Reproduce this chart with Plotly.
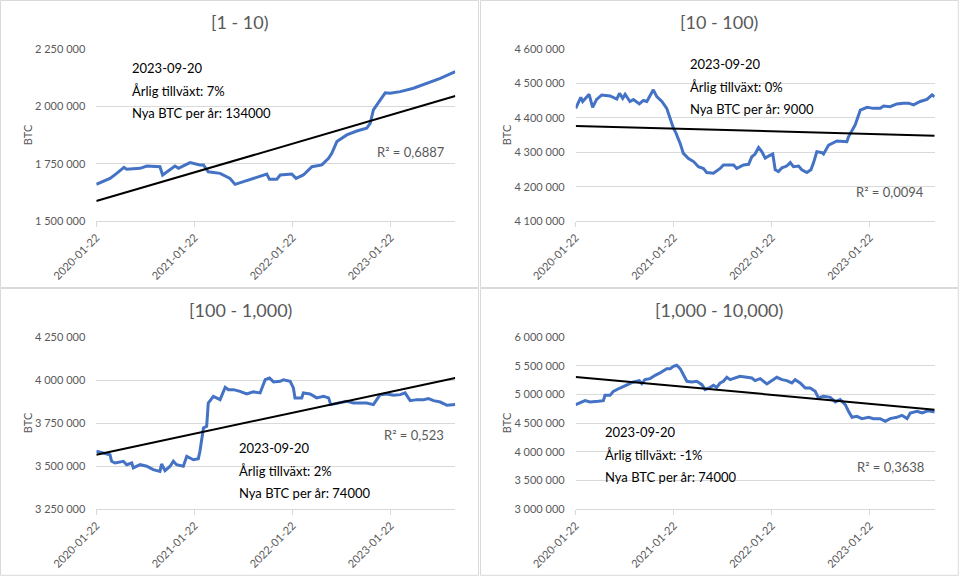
import pandas as pd
import plotly.graph_objects as go

start = pd.Timestamp("2020-01-22")
end = pd.Timestamp("2023-09-20")
tick_dates = ["2020-01-22", "2021-01-22", "2022-01-22", "2023-01-22"]

# [1 - 10)
days_1 = [0, 51, 76, 103, 113, 163, 188, 237, 247, 293, 306, 349, 386, 399, 417,
          461, 498, 517, 548, 585, 635, 645, 672, 685, 728, 744, 771, 803, 840,
          865, 877, 896, 933, 970, 1007, 1020, 1032, 1057, 1076, 1094, 1132,
          1181, 1231, 1281, 1337]
btc_1 = [1660000, 1686000, 1708000, 1734000, 1726000, 1730000, 1740000, 1737000,
         1701000, 1740000, 1730000, 1755000, 1745000, 1745000, 1715000, 1708000,
         1686000, 1660000, 1672000, 1686000, 1705000, 1682000, 1682000, 1701000,
         1705000, 1686000, 1701000, 1737000, 1745000, 1774000, 1796000, 1847000,
         1876000, 1893000, 1905000, 1927000, 1985000, 2028000, 2060000, 2058000,
         2065000, 2080000, 2101000, 2123000, 2152000]
trend_1 = [1587000, 2046000]

# [10 - 100)
days_2 = [0, 10, 19, 26, 39, 50, 63, 78, 97, 128, 153, 163, 175, 184, 202, 215,
          237, 252, 265, 289, 302, 321, 339, 352, 364, 374, 389, 401, 420, 439,
          457, 476, 488, 513, 538, 550, 588, 600, 625, 644, 656, 668, 681, 693,
          706, 718, 734, 743, 755, 768, 786, 799, 811, 830, 842, 861, 876, 886,
          898, 917, 923, 942, 973, 1010, 1016, 1041, 1060, 1085, 1109, 1134,
          1147, 1171, 1196, 1221, 1240, 1258, 1283, 1308, 1327, 1337]
btc_2 = [4428000, 4448000, 4460000, 4448000, 4460000, 4469000, 4431000, 4454000,
         4467000, 4464000, 4455000, 4472000, 4457000, 4469000, 4448000, 4454000,
         4441000, 4451000, 4448000, 4482000, 4462000, 4448000, 4428000, 4394000,
         4370000, 4355000, 4326000, 4297000, 4282000, 4273000, 4258000, 4253000,
         4241000, 4239000, 4253000, 4263000, 4263000, 4253000, 4263000, 4265000,
         4287000, 4295000, 4314000, 4302000, 4283000, 4289000, 4295000, 4249000,
         4244000, 4255000, 4260000, 4270000, 4258000, 4260000, 4249000, 4241000,
         4249000, 4270000, 4302000, 4299000, 4295000, 4321000, 4333000, 4331000,
         4345000, 4380000, 4423000, 4431000, 4428000, 4428000, 4435000, 4433000,
         4441000, 4443000, 4443000, 4438000, 4448000, 4454000, 4467000, 4462000]
trend_2 = [4377000, 4348000]

# [100 - 1,000)
days_3 = [0, 26, 51, 57, 70, 101, 113, 132, 138, 163, 188, 212, 237, 243, 256,
          275, 287, 299, 324, 337, 362, 380, 386, 399, 411, 417, 436, 461, 480,
          492, 511, 535, 560, 585, 610, 629, 645, 660, 685, 697, 722, 734, 740,
          765, 771, 796, 821, 846, 865, 873, 896, 933, 958, 983, 1007, 1032,
          1057, 1082, 1107, 1132, 1150, 1169, 1194, 1219, 1237, 1256, 1281,
          1306, 1337]
btc_3 = [3586000, 3576000, 3566000, 3528000, 3518000, 3528000, 3508000, 3518000,
         3489000, 3508000, 3499000, 3479000, 3469000, 3512000, 3473000, 3499000,
         3528000, 3508000, 3499000, 3557000, 3537000, 3543000, 3586000, 3722000,
         3732000, 3867000, 3906000, 3887000, 3959000, 3945000, 3945000, 3935000,
         3920000, 3932000, 3926000, 4003000, 4013000, 3990000, 3994000, 4003000,
         3994000, 3955000, 3897000, 3897000, 3926000, 3920000, 3897000, 3906000,
         3897000, 3858000, 3867000, 3877000, 3867000, 3867000, 3867000, 3858000,
         3916000, 3920000, 3912000, 3916000, 3926000, 3881000, 3887000, 3887000,
         3893000, 3881000, 3873000, 3854000, 3858000]
trend_3 = [3566000, 4013000]

# [1,000 - 10,000)
days_4 = [0, 16, 35, 53, 72, 84, 103, 109, 128, 140, 165, 190, 215, 237, 246,
          258, 277, 296, 314, 339, 352, 364, 376, 389, 401, 414, 432, 451, 470,
          482, 501, 513, 525, 538, 550, 563, 575, 594, 612, 637, 656, 668, 687,
          712, 730, 749, 768, 786, 805, 817, 836, 855, 873, 892, 904, 923, 948,
          967, 985, 1004, 1016, 1029, 1047, 1066, 1091, 1109, 1134, 1153, 1171,
          1196, 1215, 1234, 1246, 1271, 1290, 1314, 1337]
btc_4 = [4823000, 4852000, 4893000, 4870000, 4870000, 4881000, 4893000, 4986000,
         4986000, 5056000, 5114000, 5173000, 5219000, 5243000, 5190000, 5260000,
         5278000, 5336000, 5377000, 5452000, 5452000, 5493000, 5511000, 5452000,
         5347000, 5231000, 5219000, 5231000, 5173000, 5085000, 5126000, 5161000,
         5126000, 5202000, 5231000, 5301000, 5260000, 5289000, 5318000, 5301000,
         5289000, 5243000, 5278000, 5184000, 5243000, 5301000, 5260000, 5243000,
         5202000, 5260000, 5202000, 5114000, 5114000, 5056000, 4940000, 4969000,
         4951000, 4870000, 4911000, 4823000, 4707000, 4602000, 4619000, 4579000,
         4602000, 4579000, 4579000, 4532000, 4579000, 4602000, 4637000, 4579000,
         4677000, 4707000, 4677000, 4718000, 4695000]
trend_4 = [5307000, 4736000]

titles = ["[1 - 10)", "[10 - 100)", "[100 - 1,000)", "[1,000 - 10,000)"]
growth = ["7%", "0%", "2%", "-1%"]
new_btc = ["134000", "9000", "74000", "74000"]
r2 = ["0,6887", "0,0094", "0,523", "0,3638"]
y_ranges = [[1500000, 2250000], [4100000, 4600000], [3250000, 4250000], [3000000, 6000000]]
y_steps = [250000, 100000, 250000, 500000]

days = [days_1, days_2, days_3, days_4]
btc = [btc_1, btc_2, btc_3, btc_4]
trends = [trend_1, trend_2, trend_3, trend_4]

W, H = 959, 576
def px(x):
    return x / W
def py(y):
    return 1 - y / H

GREY = "#595959"
GRID = "#d9d9d9"
BLUE = "#4472C4"
FONT = "Lato"

# pixel layout of each panel: box, plot area, text block, r2 label
panels = [
    dict(box=(0.5, 0.5, 478.5, 287.5), plot=(96.3, 455.3, 49.3, 221), ytitle=27,
         title=(240, 22), text=(130, 68), r2=(447, 152)),
    dict(box=(480.5, 0.5, 958.3, 287.5), plot=(575.7, 934.7, 49.3, 221), ytitle=506,
         title=(719, 22), text=(688, 64), r2=(926, 192)),
    dict(box=(0.5, 288.5, 478.5, 575.3), plot=(96.3, 455.3, 337.3, 509), ytitle=27,
         title=(240, 310), text=(237, 448), r2=(446, 435)),
    dict(box=(480.5, 288.5, 958.3, 575.3), plot=(575.7, 934.7, 337.3, 509), ytitle=506,
         title=(719, 310), text=(603, 432), r2=(926, 467)),
]

fig = go.Figure()
annotations = []
shapes = []
layout = {}

for i, p in enumerate(panels):
    n = "" if i == 0 else str(i + 1)
    xa, ya = "x" + n, "y" + n
    dates = start + pd.to_timedelta(days[i], unit="D")
    fig.add_trace(go.Scatter(x=dates, y=btc[i], mode="lines", xaxis=xa, yaxis=ya,
                             line=dict(color=BLUE, width=3), showlegend=False))
    fig.add_trace(go.Scatter(x=[start, end], y=trends[i], mode="lines", xaxis=xa, yaxis=ya,
                             line=dict(color="black", width=2), showlegend=False))
    x0, x1, y0, y1 = p["plot"]
    layout["xaxis" + n] = dict(
        domain=[px(x0), px(x1)], anchor=ya, type="date", range=[start, end],
        tickvals=tick_dates, ticktext=tick_dates, tickangle=-45, automargin=False,
        tickfont=dict(family=FONT, size=11, color=GREY),
        showgrid=False, showline=True, linecolor=GRID, linewidth=1,
        ticks="outside", ticklen=5, tickcolor=GRID, zeroline=False)
    layout["yaxis" + n] = dict(
        domain=[py(y1), py(y0)], anchor=xa, range=y_ranges[i], dtick=y_steps[i],
        tickformat=",d", tickfont=dict(family=FONT, size=11, color=GREY),
        showgrid=True, gridcolor=GRID, gridwidth=1, zeroline=False, automargin=False,
        showline=False, ticks="", ticklabelstandoff=10)
    bx0, by0, bx1, by1 = p["box"]
    shapes.append(dict(type="rect", xref="paper", yref="paper",
                       x0=px(bx0), x1=px(bx1), y0=py(by1), y1=py(by0),
                       line=dict(color=GRID, width=1)))
    annotations.append(dict(text=titles[i], xref="paper", yref="paper",
                            x=px(p["title"][0]), y=py(p["title"][1]),
                            xanchor="center", yanchor="middle", showarrow=False,
                            font=dict(family=FONT, size=18, color=GREY)))
    annotations.append(dict(text="BTC", xref="paper", yref="paper", textangle=-90,
                            x=px(p["ytitle"]), y=py((y0 + y1) / 2),
                            xanchor="center", yanchor="middle", showarrow=False,
                            font=dict(family=FONT, size=11, color=GREY)))
    lines = ["2023-09-20", "Årlig tillväxt: " + growth[i], "Nya BTC per år: " + new_btc[i]]
    for k, t in enumerate(lines):
        annotations.append(dict(text=t, xref="paper", yref="paper",
                                x=px(p["text"][0]), y=py(p["text"][1] + 22.5 * k),
                                xanchor="left", yanchor="middle", showarrow=False,
                                font=dict(family=FONT, size=13, color="black")))
    annotations.append(dict(text="R² = " + r2[i], xref="paper", yref="paper",
                            x=px(p["r2"][0]), y=py(p["r2"][1]),
                            xanchor="right", yanchor="middle", showarrow=False,
                            font=dict(family=FONT, size=13, color=GREY)))

fig.update_layout(**layout)
fig.update_layout(width=W, height=H, autosize=False,
                  margin=dict(l=0, r=0, t=0, b=0, pad=0),
                  paper_bgcolor="white", plot_bgcolor="white",
                  separators=", ", annotations=annotations, shapes=shapes,
                  font=dict(family=FONT))

# page default body margin would push the figure 8px off the window
fig.write_html("out.html", config={"displayModeBar": False},
               post_script="document.body.style.margin = '0';")
